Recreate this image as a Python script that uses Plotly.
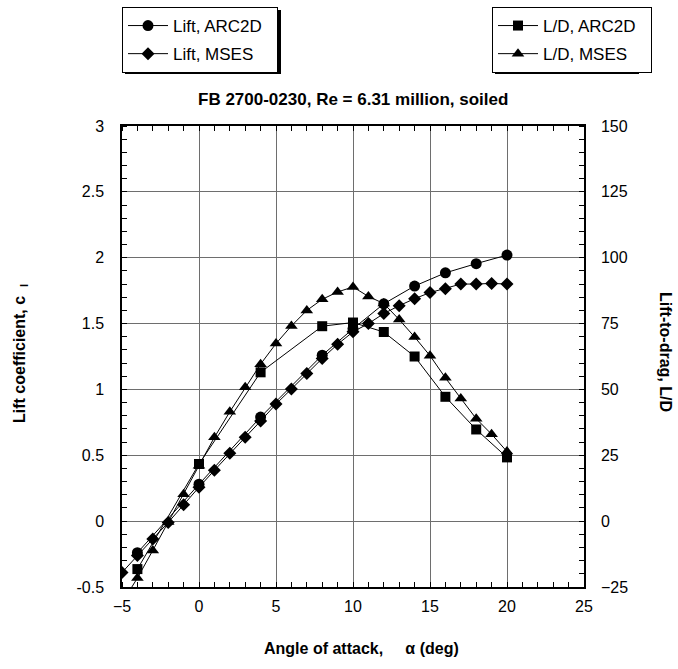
import plotly.graph_objects as go

# ---- data ----
alpha_arc = [-4, 0, 4, 8, 10, 12, 14, 16, 18, 20]
cl_arc = [-0.24, 0.28, 0.79, 1.26, 1.46, 1.65, 1.785, 1.885, 1.955, 2.02]
ld_arc = [-18.2, 21.7, 56.5, 74.0, 75.4, 71.8, 62.5, 47.2, 34.8, 24.2]

alpha_mses = [-5, -4, -3, -2, -1, 0, 1, 2, 3, 4, 5, 6, 7, 8, 9, 10, 11, 12, 13, 14, 15, 16, 17, 18, 19, 20]
cl_mses = [-0.39, -0.26, -0.135, -0.01, 0.125, 0.258, 0.386, 0.515, 0.636, 0.76, 0.889, 1.003, 1.121,
           1.235, 1.343, 1.437, 1.50, 1.576, 1.636, 1.689, 1.735, 1.765, 1.80, 1.80, 1.805, 1.80]
ld_mses = [-31.0, -21.6, -11.1, -0.3, 10.2, 21.0, 31.8, 41.5, 50.8, 59.6, 67.4, 74.1, 80.0,
           84.2, 87.0, 88.9, 85.3, 82.6, 76.5, 69.9, 62.8, 54.4, 46.6, 38.9, 33.0, 26.4]

x_ticks = [-5, 0, 5, 10, 15, 20, 25]
y_ticks = [-0.5, 0, 0.5, 1, 1.5, 2, 2.5, 3]
y2_ticks = [-25, 0, 25, 50, 75, 100, 125, 150]

W, H = 678, 669
FONT = "Liberation Sans, Arial, sans-serif"
L, R, T, B = 122, 584, 126, 587


def px(xp):
    return (xp - L) / (R - L)


def py(yp):
    return (B - yp) / (B - T)


fig = go.Figure()
line = dict(color="black", width=1)
pad = "\u00a0\u00a0"

fig.add_trace(go.Scatter(x=alpha_arc, y=cl_arc, mode="lines+markers", name="Lift, ARC2D" + pad,
                         line=line, marker=dict(symbol="circle", size=11, color="black"),
                         legend="legend", legendgroup="a", yaxis="y"))
fig.add_trace(go.Scatter(x=alpha_mses, y=cl_mses, mode="lines+markers", name="Lift, MSES" + pad,
                         line=line, marker=dict(symbol="diamond", size=10, color="black"),
                         legend="legend", legendgroup="b", yaxis="y"))
fig.add_trace(go.Scatter(x=alpha_arc, y=ld_arc, mode="lines+markers", name="L/D, ARC2D" + pad,
                         line=line, marker=dict(symbol="square", size=10, color="black"),
                         legend="legend2", legendgroup="c", yaxis="y2"))
fig.add_trace(go.Scatter(x=alpha_mses, y=ld_mses, mode="lines+markers", name="L/D, MSES" + pad,
                         line=line, marker=dict(symbol="triangle-up", size=11, color="black"),
                         legend="legend2", legendgroup="d", yaxis="y2"))

legend_common = dict(
    xref="container", yref="container", xanchor="left", yanchor="top",
    bgcolor="white", bordercolor="black", borderwidth=1,
    font=dict(family=FONT, size=17, color="black"),
    traceorder="grouped", tracegroupgap=3, itemwidth=40,
)

# drop shadows behind the two legend boxes
shadows = []
for (x0, x1) in [(122, 278), (492, 636)]:
    shadows.append(dict(type="rect", xref="paper", yref="paper",
                        x0=px(x0 + 3), x1=px(x1 + 3), y0=py(71 + 3), y1=py(7 + 3),
                        fillcolor="black", line=dict(width=0), layer="above"))

fig.update_layout(
    width=W, height=H,
    margin=dict(l=L, r=W - R, t=T, b=H - B, pad=0, autoexpand=False),
    paper_bgcolor="white", plot_bgcolor="white",
    font=dict(family=FONT, size=16, color="black"),
    showlegend=True,
    legend=dict(x=122 / W, y=1 - 7 / H, **legend_common),
    legend2=dict(x=492 / W, y=1 - 7 / H, **legend_common),
    shapes=shadows,
    xaxis=dict(
        range=[-5, 25], tickvals=x_ticks, ticks="", showgrid=True, automargin=False,
        gridcolor="#6e6e6e", gridwidth=1.3, zeroline=False,
        showline=True, linecolor="black", linewidth=1.5, mirror="ticks",
        ticklabelstandoff=4,
        minor=dict(dtick=1, ticks="inside", ticklen=5, tickcolor="black", tickwidth=1, showgrid=False),
    ),
    yaxis=dict(
        range=[-0.5, 3], tickvals=y_ticks, ticktext=[str(v) for v in y_ticks], ticks="",
        showgrid=True, gridcolor="#6e6e6e", gridwidth=1.3, zeroline=False, automargin=False,
        showline=True, linecolor="black", linewidth=1.5, mirror=True,
        ticklabelstandoff=13,
        minor=dict(dtick=0.1, tick0=0, ticks="inside", ticklen=5, tickcolor="black", tickwidth=1, showgrid=False),
    ),
    yaxis2=dict(
        range=[-25, 150], tickvals=y2_ticks, overlaying="y", side="right", anchor="x",
        ticks="", showgrid=False, zeroline=False, automargin=False,
        showline=True, linecolor="black", linewidth=1.5,
        ticklabelstandoff=12,
        minor=dict(dtick=5, tick0=0, ticks="inside", ticklen=5, tickcolor="black", tickwidth=1, showgrid=False),
    ),
)

fig.add_annotation(text="<b>FB 2700-0230, Re = 6.31 million, soiled</b>", xref="paper", yref="paper",
                   x=px(353), y=py(100), xanchor="center", yanchor="middle", showarrow=False,
                   font=dict(family=FONT, size=17, color="black"))
fig.add_annotation(text="<b>Angle of attack,     α (deg)</b>", xref="paper", yref="paper",
                   x=px(361), y=py(648), xanchor="center", yanchor="middle", showarrow=False,
                   font=dict(family=FONT, size=16, color="black"))
fig.add_annotation(text="<b>Lift coefficient, c  <sub>l</sub></b>", xref="paper", yref="paper",
                   x=px(20), y=py(354), xanchor="center", yanchor="middle", showarrow=False, textangle=-90,
                   font=dict(family=FONT, size=16, color="black"))
fig.add_annotation(text="<b>Lift-to-drag, L/D</b>", xref="paper", yref="paper",
                   x=px(666), y=py(352), xanchor="center", yanchor="middle", showarrow=False, textangle=90,
                   font=dict(family=FONT, size=16, color="black"))

fig.write_html("out.html")
